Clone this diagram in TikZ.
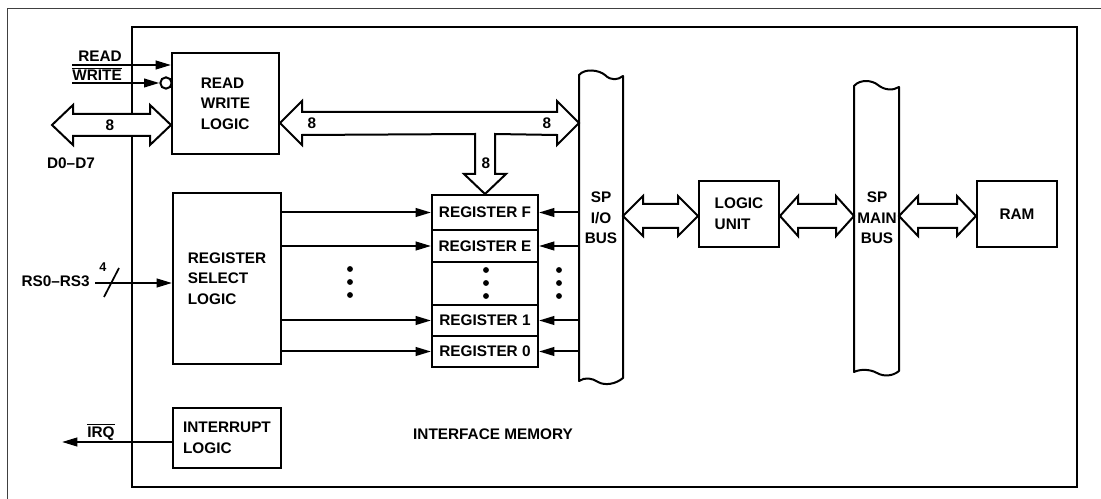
\documentclass[tikz,border=0pt]{standalone}
\usepackage{fontspec}
\setmainfont{Liberation Sans}
\usetikzlibrary{arrows.meta,calc}
\newcommand\ovl[1]{$\overline{\mbox{#1}}$}
% fat double arrow: #1 left tip, #2 right tip, #3 shaft half height, #4 head half height, #5 head length
\newcommand\fatarr[5]{%
  \draw[fat] (#1) -- ($(#1)+(#5,-#4)$) -- ($(#1)+(#5,-#3)$) -- ($(#2)+(-#5,-#3)$) -- ($(#2)+(-#5,-#4)$) -- (#2)
    -- ($(#2)+(-#5,#4)$) -- ($(#2)+(-#5,#3)$) -- ($(#1)+(#5,#3)$) -- ($(#1)+(#5,#4)$) -- cycle;}
\begin{document}
\begin{tikzpicture}[x=0.75pt,y=-0.75pt,
  every node/.style={font=\fontsize{11.5}{15.5}\selectfont\bfseries, inner sep=0pt},
  box/.style={draw, line width=1.5pt, inner sep=0pt, align=left},
  reg/.style={box, minimum width=79.5pt},
  sig/.style={line width=1.5pt, -{Triangle[length=11.5pt,width=6.5pt]}},
  fat/.style={line width=1.5pt, line join=miter, fill=white},
  busline/.style={line width=1.5pt, line join=round}]
\useasboundingbox (0,0) rectangle (1101,499);
% frames
\draw[line width=0.7pt, black!75] (7,499) -- (7,8) -- (1101,8);
\draw[line width=1.4pt] (132,27) rectangle (1077,487);

% blocks
\node[box, minimum width=80.25pt, minimum height=75.75pt] (rwl) at (225.5,103.5) {READ\\WRITE\\LOGIC};
\node[box, minimum width=81pt, minimum height=128.25pt] (rsl) at (227,278.5) {REGISTER\\SELECT\\LOGIC};
\node[box, minimum width=81pt, minimum height=45pt] (il) at (227,438) {INTERRUPT\\LOGIC};
\node[box, minimum width=60pt, minimum height=49.5pt] (lu) at (739,214) {LOGIC\\UNIT};
\node[box, minimum width=60pt, minimum height=49.5pt] (ram) at (1017,214) {RAM};

% register stack
\node[reg, minimum height=26.25pt] (regF) at (485,212.5) {REGISTER F};
\node[reg, minimum height=24pt] (regE) at (485,246) {REGISTER E};
\node[reg, minimum height=32.25pt] (regD) at (485,283.5) {};
\node[reg, minimum height=23.25pt] (reg1) at (485,320.5) {REGISTER 1};
\node[reg, minimum height=23.25pt] (reg0) at (485,351.5) {REGISTER 0};

% SP I/O bus
\draw[busline] (579,75) .. controls (585,68) and (599,70) .. (605,75)
  .. controls (611,81) and (618,80) .. (623,76) -- (623,378)
  .. controls (616,384) and (605,386) .. (598,382)
  .. controls (592,378) and (585,377) .. (579,381) -- cycle;
\node[align=center] (iotxt) at (601,218) {SP\\I/O\\BUS};
\coordinate (ioL) at (579,216);
\coordinate (ioR) at (623,216);

% SP main bus
\draw[busline] (854,86) .. controls (860,79) and (872,80) .. (878,85)
  .. controls (884,90) and (893,91) .. (899,87) -- (899,371)
  .. controls (893,376) and (884,377) .. (877,373)
  .. controls (870,369) and (860,369) .. (854,372) -- cycle;
\node[align=center] (mbtxt) at (877,218) {SP\\MAIN\\BUS};
\coordinate (mbL) at (854,216);
\coordinate (mbR) at (899,216);

% READ / WRITE inputs
\coordinate (rdS) at (72,65);
\draw[sig] (rdS) -- (rwl.west |- rdS);
\node[anchor=base east] (rdL) at (122,61.5) {READ};
\coordinate (wrS) at (72,83);
\node[draw, circle, line width=1.5pt, minimum size=8.5pt] (wc) at (166,83) {};
\draw[sig] (wrS) -- (wc.west);
\node[anchor=base east] (wrL) at (122,80.5) {\ovl{WRITE}};

% data bus D0-D7
\coordinate (dL) at (52,125);
\coordinate (dR) at (rwl.west |- dL);
\fatarr{dL}{dR}{11}{20}{21}
\node (d8) at (110,125) {8};
\node (dlab) at (71,163) {D0--D7};

% internal data bus with branch
\coordinate (tL) at (rwl.east |- 0,123);
\coordinate (tR) at (ioL |- tL);
\draw[fat] (tL) -- ++(22,-22) -- ++(0,11) -- ($(tR)+(-22,-11)$) -- ++(0,-11) -- (tR)
  -- ++(-22,22) -- ++(0,-10) -- ($(regF.north)+(10,-60)$) -- ($(regF.north)+(10,-20)$)
  -- ++(11,0) -- (regF.north) -- ($(regF.north)+(-21,-20)$) -- ++(11,0)
  -- ($(regF.north)+(-10,-60)$) -- ($(tL)+(22,12)$) -- ++(0,10) -- cycle;
\node (t8a) at (312,123) {8};
\node (t8b) at (547,123) {8};
\node (t8c) at (486,163) {8};

% RS0-RS3
\coordinate (rsS) at (95,283);
\draw[sig] (rsS) -- (rsl.west |- rsS);
\draw[line width=1.3pt] (104,297) -- (119,268);
\node[anchor=east] (rslab) at (90,281) {RS0--RS3};
\node[font=\fontsize{9.5}{11}\selectfont\bfseries] (rs4) at (103,267) {4};

% select lines
\draw[sig] (rsl.east |- regF.west) -- (regF.west);
\draw[sig] (rsl.east |- regE.west) -- (regE.west);
\draw[sig] (rsl.east |- reg1.west) -- (reg1.west);
\draw[sig] (rsl.east |- reg0.west) -- (reg0.west);
% bus to registers
\draw[sig] (ioL |- regF.east) -- (regF.east);
\draw[sig] (ioL |- regE.east) -- (regE.east);
\draw[sig] (ioL |- reg1.east) -- (reg1.east);
\draw[sig] (ioL |- reg0.east) -- (reg0.east);

% dots
\foreach \y in {269,282,295} \fill (350,\y) circle (2.2pt);
\foreach \y in {270,283,296} \fill (486,\y) circle (2.2pt);
\foreach \y in {270,283,296} \fill (559,\y) circle (2.2pt);

% IRQ
\coordinate (irqE) at (62,442);
\draw[sig] (il.west |- irqE) -- (irqE);
\node[anchor=base] (irqL) at (101,437) {\ovl{IRQ}};

% lower fat arrows
\coordinate (luW) at (lu.west |- ioR);
\coordinate (luE) at (lu.east |- ioR);
\coordinate (ramW) at (ram.west |- ioR);
\fatarr{ioR}{luW}{12}{20}{20}
\fatarr{luE}{mbL}{12}{20}{18}
\fatarr{mbR}{ramW}{12}{20}{19}

\node[anchor=base] (ifm) at (493,440) {INTERFACE MEMORY};
\end{tikzpicture}
\end{document}
